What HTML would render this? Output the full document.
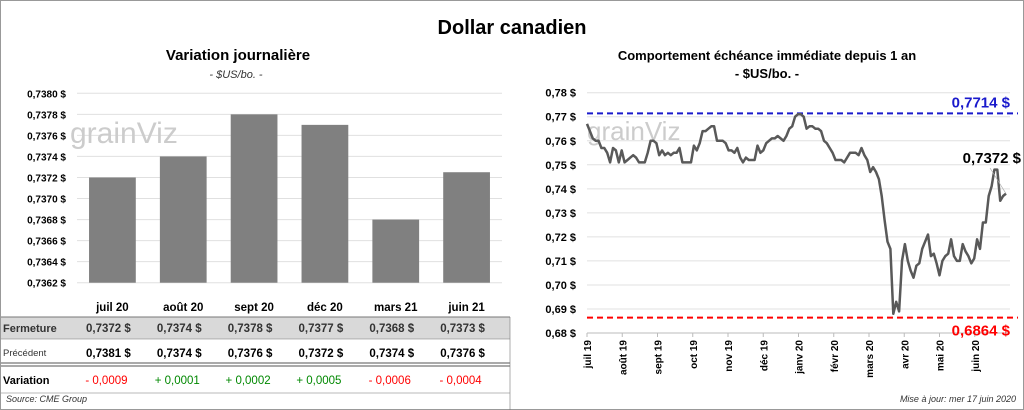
<!DOCTYPE html>
<html><head><meta charset="utf-8">
<style>
body{margin:0;width:1024px;height:410px;background:#fff;font-family:"Liberation Sans",sans-serif;overflow:hidden}
svg{display:block}
text{font-family:"Liberation Sans",sans-serif}
</style></head>
<body>
<svg width="1024" height="410">
<rect x="0.5" y="0.5" width="1023" height="409" fill="#fff" stroke="#999"/>
<text x="512" y="34" text-anchor="middle" font-size="20" font-weight="bold">Dollar canadien</text>
<text x="238" y="60" text-anchor="middle" font-size="15" font-weight="bold">Variation  journalière</text>
<text x="236" y="78" text-anchor="middle" font-size="11" font-style="italic" fill="#333">- $US/bo. -</text>
<text x="767" y="60" text-anchor="middle" font-size="13" font-weight="bold">Comportement échéance immédiate depuis 1 an</text>
<text x="767" y="78" text-anchor="middle" font-size="13" font-weight="bold">- $US/bo. -</text>
<g id="left"></g>
<g id="table"></g>
<g id="right"></g>
<text x="6" y="402" font-size="9" font-style="italic" fill="#333">Source: CME Group</text>
<text x="1016" y="402" text-anchor="end" font-size="9" font-style="italic" fill="#333">Mise à jour: mer 17 juin 2020</text>
</svg>
<script>
const barCats=["juil 20","août 20","sept 20","déc 20","mars 21","juin 21"];
const barVals=[0.7372,0.7374,0.7378,0.7377,0.7368,0.73725];
const barTicks=[0.7362,0.7364,0.7366,0.7368,0.7370,0.7372,0.7374,0.7376,0.7378,0.7380];
const closeVals=["0,7372","0,7374","0,7378","0,7377","0,7368","0,7373"];
const prevVals=["0,7381","0,7374","0,7376","0,7372","0,7374","0,7376"];
const varVals=["- 0,0009","+ 0,0001","+ 0,0002","+ 0,0005","- 0,0006","- 0,0004"];
const lineVals=[0.767,0.764,0.761,0.760,0.760,0.757,0.757,0.755,0.751,0.757,0.756,0.751,0.756,0.751,0.752,0.753,0.754,0.753,0.751,0.751,0.751,0.755,0.760,0.760,0.759,0.754,0.756,0.754,0.755,0.754,0.755,0.755,0.757,0.751,0.751,0.751,0.751,0.758,0.756,0.759,0.764,0.764,0.765,0.766,0.766,0.760,0.760,0.760,0.759,0.756,0.756,0.755,0.757,0.753,0.751,0.753,0.752,0.752,0.752,0.758,0.755,0.756,0.759,0.760,0.761,0.761,0.762,0.761,0.760,0.762,0.765,0.766,0.770,0.771,0.771,0.770,0.765,0.766,0.766,0.765,0.765,0.764,0.760,0.759,0.757,0.755,0.752,0.752,0.752,0.751,0.753,0.755,0.755,0.755,0.754,0.757,0.754,0.752,0.747,0.749,0.747,0.744,0.737,0.727,0.718,0.715,0.688,0.693,0.689,0.710,0.717,0.710,0.706,0.703,0.708,0.709,0.715,0.718,0.721,0.712,0.713,0.709,0.704,0.710,0.712,0.713,0.719,0.712,0.710,0.710,0.717,0.714,0.712,0.709,0.711,0.719,0.715,0.726,0.726,0.737,0.741,0.748,0.748,0.735,0.737,0.738];
const lineTicks=[0.68,0.69,0.70,0.71,0.72,0.73,0.74,0.75,0.76,0.77,0.78];
const monthLabels=["juil 19","août 19","sept 19","oct 19","nov 19","déc 19","janv 20","févr 20","mars 20","avr 20","mai 20","juin 20"];
const highVal=0.7714, lowVal=0.6864, lastLabel="0,7372 $";
const NS="http://www.w3.org/2000/svg";
function mk(p,t,a,txt){const e=document.createElementNS(NS,t);for(const k in a)e.setAttribute(k,a[k]);if(txt!==undefined)e.textContent=txt;p.appendChild(e);return e;}
const fmt=(v,d)=>v.toFixed(d).replace('.',',')+' $';
// left bar chart
const L=document.getElementById('left');
const lx0=77,lx1=502,ly=v=>282.7-(v-0.7362)/0.0018*189.4;
const bw=(lx1-lx0)/barCats.length;
barTicks.forEach(t=>{const g=mk(L,'line',{x1:lx0,x2:lx1,y1:ly(t),y2:ly(t),stroke:'#e0e0e0'});

const tx=mk(L,'text',{x:66,y:ly(t)+4,'text-anchor':'end','font-size':10,'font-weight':'bold'},fmt(t,4));
});
const wm1=mk(L,'text',{x:70,y:143,'font-size':30,fill:'#ccc'},'grainViz');

barCats.forEach((c,i)=>{const x=lx0+bw*i+bw*0.17;const r=mk(L,'rect',{x:x,y:ly(barVals[i]),width:bw*0.66,height:ly(0.7362)-ly(barVals[i]),fill:'#808080'});
});
// table
const T=document.getElementById('table');
mk(T,'rect',{x:1,y:317,width:509,height:22,fill:'#d9d9d9'});
mk(T,'line',{x1:1,x2:510,y1:317,y2:317,stroke:'#777'});
mk(T,'line',{x1:1,x2:510,y1:339,y2:339,stroke:'#777','stroke-width':0.6});
mk(T,'line',{x1:1,x2:510,y1:363,y2:363,stroke:'#777','stroke-width':1.2});
mk(T,'line',{x1:1,x2:510,y1:366,y2:366,stroke:'#777','stroke-width':1.2});
mk(T,'line',{x1:1,x2:510,y1:393,y2:393,stroke:'#777','stroke-width':0.6});
mk(T,'line',{x1:510,x2:510,y1:317,y2:410,stroke:'#777','stroke-width':0.6});
const r1=mk(T,'text',{x:3,y:332,'font-size':11,'font-weight':'bold',fill:'#333'},'Fermeture');
const r2=mk(T,'text',{x:3,y:356,'font-size':9.5,fill:'#333'},'Précédent');
const r3=mk(T,'text',{x:3,y:384,'font-size':11,'font-weight':'bold'},'Variation');
barCats.forEach((c,i)=>{const cx=lx0+bw*i+bw/2;
const h=mk(T,'text',{x:cx,y:311,'text-anchor':'middle','font-size':11.5,'font-weight':'bold'},c);
const a=mk(T,'text',{x:cx-4,y:332,'text-anchor':'middle','font-size':11.5,'font-weight':'bold',fill:'#333'},closeVals[i]+'  $');
const b=mk(T,'text',{x:cx-4,y:357,'text-anchor':'middle','font-size':11.5,'font-weight':'bold'},prevVals[i]+'  $');
const v=mk(T,'text',{x:cx-6,y:384,'text-anchor':'middle','font-size':11.5,fill:varVals[i][0]=='-'?'#f00':'#080'},varVals[i]);});
// right line chart
const R=document.getElementById('right');
const rx0=587,rx1=1010,ry=v=>333-(v-0.68)/0.10*240.3;
lineTicks.forEach(t=>{const g=mk(R,'line',{x1:rx0,x2:rx1,y1:ry(t),y2:ry(t),stroke:'#e0e0e0'});

const tx=mk(R,'text',{x:576,y:ry(t)+4,'text-anchor':'end','font-size':11,'font-weight':'bold'},fmt(t,2));
});
mk(R,'line',{x1:rx0,x2:rx1,y1:ry(0.68),y2:ry(0.68),stroke:'#bbb'});
const wm2=mk(R,'text',{x:587,y:140,'font-size':26,fill:'#ccc'},'grainViz');

const mw=(rx1-rx0)/monthLabels.length;
monthLabels.forEach((m,i)=>{const x=rx0+mw*i;mk(R,'line',{x1:x,x2:x,y1:333,y2:337,stroke:'#bbb'});
const tx=mk(R,'text',{x:x+4,y:340,'font-size':10,'font-weight':'bold',transform:`rotate(-90 ${x+4} 340)`,'text-anchor':'end'},m);
});
const hl=mk(R,'line',{x1:rx0,x2:1018,y1:ry(highVal),y2:ry(highVal),stroke:'#1a1acc','stroke-width':2,'stroke-dasharray':'6,4'});

const ll=mk(R,'line',{x1:rx0,x2:1018,y1:ry(lowVal),y2:ry(lowVal),stroke:'#f00','stroke-width':2,'stroke-dasharray':'6,4'});

const ht=mk(R,'text',{x:1010,y:ry(highVal)-6,'text-anchor':'end','font-size':15,'font-weight':'bold',fill:'#1a1acc'},fmt(highVal,4));

const lt=mk(R,'text',{x:1010,y:ry(lowVal)+18,'text-anchor':'end','font-size':15,'font-weight':'bold',fill:'#f00'},fmt(lowVal,4));

const n=lineVals.length;const px=i=>rx0+i*(1006-rx0)/(n-1);
const pts=lineVals.map((v,i)=>px(i).toFixed(1)+','+ry(v).toFixed(1)).join(' ');
const pl=mk(R,'polyline',{points:pts,fill:'none',stroke:'#595959','stroke-width':2.5,'stroke-linejoin':'round'});

const la=mk(R,'text',{x:1021,y:163,'text-anchor':'end','font-size':15,'font-weight':'bold'},lastLabel);

mk(R,'line',{x1:990,y1:168,x2:px(n-1),y2:ry(lineVals[n-1]),stroke:'#aaa','stroke-width':0.7});
</script>
</body></html>
